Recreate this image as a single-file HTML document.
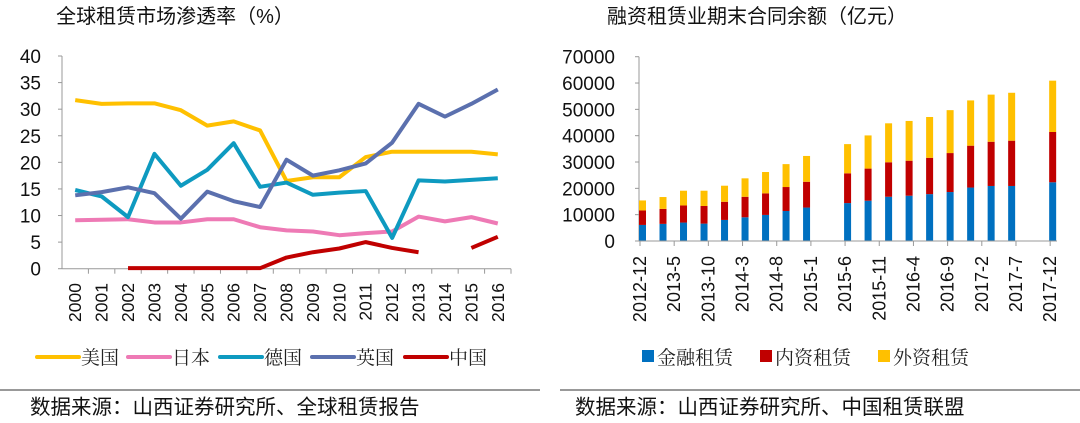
<!DOCTYPE html>
<html><head><meta charset="utf-8"><style>
body{margin:0;background:#fff;}
svg{display:block;font-family:"Liberation Sans","Noto Sans CJK SC",sans-serif;}
</style></head><body>
<svg id="s" width="1080" height="423">
<text x="175" y="23" font-size="20" text-anchor="middle" fill="#111">全球租赁市场渗透率（%）</text>
<text x="757" y="23" font-size="20" text-anchor="middle" fill="#111">融资租赁业期末合同余额（亿元）</text>
<g id="L"></g>
<g id="R"></g>
<line x1="0" y1="390" x2="540" y2="390" stroke="#333" stroke-width="1"/>
<line x1="560" y1="390" x2="1080" y2="390" stroke="#333" stroke-width="1"/>
<text x="30" y="414" font-size="20.5" fill="#111">数据来源：山西证券研究所、全球租赁报告</text>
<text x="575" y="414" font-size="20.5" fill="#111">数据来源：山西证券研究所、中国租赁联盟</text>
</svg>
<script>
const years=["2000","2001","2002","2003","2004","2005","2006","2007","2008","2009","2010","2011","2012","2013","2014","2015","2016"];
const seriesNames=["美国","日本","德国","英国","中国"];
const usVals=[31.7,31,31.1,31.1,29.8,26.9,27.7,26,16.5,17.2,17.2,21,22,22,22,22,21.5];
const jpVals=[9.1,9.2,9.3,8.7,8.7,9.3,9.3,7.8,7.2,7.0,6.3,6.7,7.0,9.8,8.9,9.7,8.5];
const deVals=[14.8,13.6,9.7,21.6,15.6,18.6,23.6,15.4,16.2,13.9,14.3,14.6,5.8,16.6,16.4,16.7,17];
const ukVals=[13.8,14.4,15.3,14.2,9.4,14.5,12.7,11.6,20.5,17.5,18.5,19.8,23.7,31,28.6,31,33.7];
const cnVals=[null,null,0.1,0.1,0.1,0.1,0.1,0.1,2.1,3.1,3.8,5,3.9,3.1,null,3.9,6];
const leftTicks=[0,5,10,15,20,25,30,35,40];

const months=["2012-12","2013-5","2013-10","2014-3","2014-8","2015-1","2015-6","2015-11","2016-4","2016-9","2017-2","2017-7","2017-12"];
const barMonths=[0,3,6,9,12,15,18,21,24,30,33,36,39,42,45,48,51,54,60];
const finVals=[6.1,6.5,7,6.6,8,9,9.9,11.4,12.7,14.4,15.3,16.8,17.2,17.8,18.6,20.3,20.9,20.9,22.3].map(v=>v*1000);
const domVals=[5.5,5.7,6.5,6.7,6.9,7.8,8.2,9.1,9.8,11.3,12.2,13.1,13.3,13.8,14.8,15.9,16.8,17.2,19.1].map(v=>v*1000);
const forVals=[3.8,4.5,5.6,5.8,6.1,7,8.1,8.7,9.8,11.1,12.6,14.8,15.1,15.5,16.3,17.2,17.9,18.2,19.5].map(v=>v*1000);
const rightTicks=[0,10000,20000,30000,40000,50000,60000,70000];

const NS="http://www.w3.org/2000/svg";
function mk(p,t,a,txt){const e=document.createElementNS(NS,t);for(const k in a)e.setAttribute(k,a[k]);if(txt!=null)e.textContent=txt;p.appendChild(e);return e;}

const L=document.getElementById('L');
const lx0=62,lx1=511,ly0=268.7,ly1=56;
const lw=(lx1-lx0)/years.length;
const lxs=i=>lx0+(i+0.5)*lw;
const lys=v=>ly0-(v/40)*(ly0-ly1);
let e=mk(L,'line',{x1:lx0,y1:ly1,x2:lx0,y2:ly0,stroke:'#999'});


e=mk(L,'line',{x1:lx0,y1:ly0,x2:lx1,y2:ly0,stroke:'#999'});


leftTicks.forEach(t=>{
 mk(L,'line',{x1:lx0-4,y1:lys(t),x2:lx0,y2:lys(t),stroke:'#999'});
 e=mk(L,'text',{x:41,y:lys(t)+7,'font-size':19,'text-anchor':'end',fill:'#111'},String(t));
 
 
});
years.forEach((y,i)=>{
 mk(L,'line',{x1:lx0+(i+1)*lw,y1:ly0,x2:lx0+(i+1)*lw,y2:ly0+5,stroke:'#999'});
 const x=lxs(i);
 e=mk(L,'text',{x:0,y:0,'font-size':17.5,'text-anchor':'end',fill:'#111',transform:`translate(${x+6},${283}) rotate(-90)`},y);
 
 
});
const colors=['#FFC000','#EE7AB5','#0E9AC0','#5B70AE','#C00000'];
const all=[usVals,jpVals,deVals,ukVals,cnVals];
const keys=['us','japan','germany','uk','china'];
all.forEach((vals,si)=>{
 let segs=[],cur=[];
 vals.forEach((v,i)=>{if(v==null){if(cur.length)segs.push(cur);cur=[];}else cur.push([lxs(i),lys(v)]);});
 if(cur.length)segs.push(cur);
 segs.forEach(sg=>{
  e=mk(L,'polyline',{points:sg.map(p=>p.join(',')).join(' '),fill:'none',stroke:colors[si],'stroke-width':4,'stroke-linejoin':'round'});
  
  
 });
});
const legX=[37,128,220,312,405];
seriesNames.forEach((n,i)=>{
 const g=mk(L,'g',{});
 
 
 mk(g,'line',{x1:legX[i],y1:357,x2:legX[i]+42,y2:357,stroke:colors[i],'stroke-width':4,'stroke-linecap':'round'});
 mk(g,'text',{x:legX[i]+44,y:364,'font-size':19,fill:'#222','font-family':'Liberation Serif,Noto Serif CJK SC,serif'},n);
});

const R=document.getElementById('R');
const rx0=640,rx1=1057,ry0=241,ry1=56.7;
const mw=(rx1-rx0)/61;
const rxs=m=>rx0+m*mw;
const rys=v=>ry0-(v/70000)*(ry0-ry1);
e=mk(R,'line',{x1:rx0-1,y1:ry1,x2:rx0-1,y2:ry0,stroke:'#999'});


rightTicks.forEach(t=>{
 mk(R,'line',{x1:rx0-5,y1:rys(t),x2:rx0-1,y2:rys(t),stroke:'#999'});
 e=mk(R,'text',{x:615,y:rys(t)+7,'font-size':19,'text-anchor':'end',fill:'#111'},String(t));
 
 
});
const bw=7;
barMonths.forEach((m,i)=>{
 const cx=rxs(m)+2.5;
 const parts=[[0,finVals[i],'#0070C0','financial'],[finVals[i],finVals[i]+domVals[i],'#C00000','domestic'],[finVals[i]+domVals[i],finVals[i]+domVals[i]+forVals[i],'#FFC000','foreign']];
 parts.forEach(p=>{
  e=mk(R,'rect',{x:cx-bw/2,y:rys(p[1]),width:bw,height:rys(p[0])-rys(p[1]),fill:p[2]});
  
  
 });
});
e=mk(R,'line',{x1:rx0-1,y1:ry0,x2:rx1,y2:ry0,stroke:'#999'});


months.forEach((lab,i)=>{
 const x=rxs(i*5);
 mk(R,'line',{x1:x,y1:ry0,x2:x,y2:ry0+5,stroke:'#999'});
 e=mk(R,'text',{x:0,y:0,'font-size':18,'text-anchor':'end',fill:'#111',transform:`translate(${x+6},${256}) rotate(-90)`},lab);
 
 
});
const rl=[['金融租赁','#0070C0',642,'financial'],['内资租赁','#C00000',760,'domestic'],['外资租赁','#FFC000',878,'foreign']];
rl.forEach(r=>{
 const g=mk(R,'g',{});
 
 
 mk(g,'rect',{x:r[2],y:350,width:12,height:12,fill:r[1]});
 mk(g,'text',{x:r[2]+15,y:364,'font-size':19,fill:'#222','font-family':'Liberation Serif,Noto Serif CJK SC,serif'},r[0]);
});
</script>
</body></html>
